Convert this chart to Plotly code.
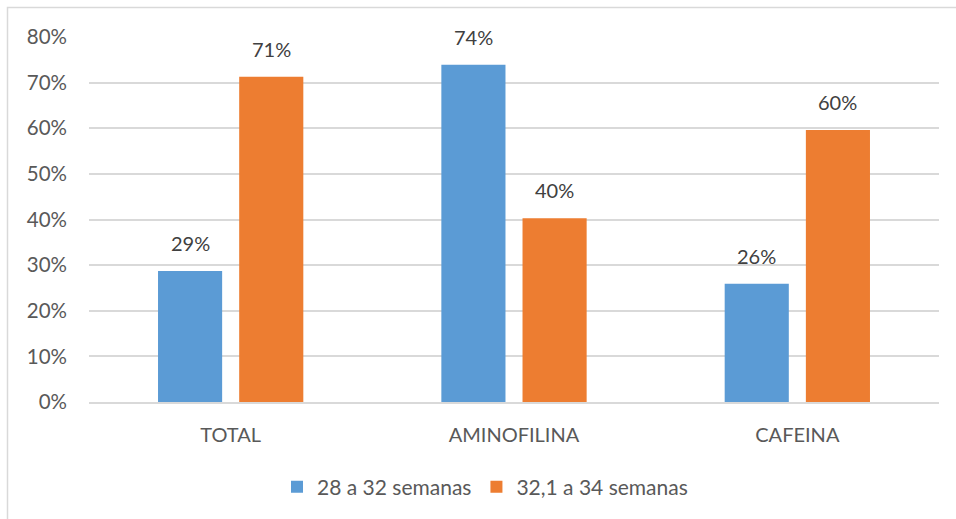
import plotly.graph_objects as go

categories = ["TOTAL", "AMINOFILINA", "CAFEINA"]
series_names = ["28 a 32 semanas", "32,1 a 34 semanas"]
vals_28_32 = [0.287, 0.739, 0.259]
vals_32_34 = [0.713, 0.403, 0.596]
y_ticks = [0, 0.1, 0.2, 0.3, 0.4, 0.5, 0.6, 0.7, 0.8]

colors = ["#5B9BD5", "#ED7D31"]
text_color = "#595959"
grid_color = "#D9D9D9"
font_family = "Lato, 'Open Sans', sans-serif"

W, H = 956, 519
ml, mr, mt, mb = 89, 17, 37, 117
pw, ph = W - ml - mr, H - mt - mb

fig = go.Figure()
for name, vals, col in zip(series_names, [vals_28_32, vals_32_34], colors):
    fig.add_trace(go.Bar(
        x=categories, y=vals, name=name,
        marker=dict(color=col, line=dict(width=0)),
        hoverinfo="skip",
    ))

# value labels above each bar
slot = pw / 3 * (1 - 0.427) / 2
for i, vals in enumerate([vals_28_32, vals_32_34]):
    shift = (i - 0.5) * slot
    for c, v in zip(categories, vals):
        fig.add_annotation(
            x=c, y=v, text=f"{v:.0%}", showarrow=False,
            xshift=shift, yshift=14, yanchor="bottom",
            font=dict(family=font_family, size=20, color="#404040"),
        )

# outer chart frame
fig.add_shape(
    type="rect", xref="paper", yref="paper",
    x0=(7.5 - ml) / pw, x1=(962 - ml) / pw,
    y0=(402 - 525) / ph, y1=1 + (mt - 7.5) / ph,
    line=dict(color=grid_color, width=1.5), fillcolor="rgba(0,0,0,0)",
    layer="below",
)

fig.update_layout(
    width=W, height=H,
    margin=dict(l=ml, r=mr, t=mt, b=mb),
    paper_bgcolor="white", plot_bgcolor="white",
    barmode="group", bargap=0.427, bargroupgap=0.21,
    font=dict(family=font_family, size=20, color=text_color),
    showlegend=True,
    legend=dict(
        orientation="h", x=(485 - ml) / pw, xanchor="center",
        y=(402 - 487) / ph, yanchor="middle",
        font=dict(size=21, color=text_color),
        itemwidth=30, traceorder="normal",
    ),
    xaxis=dict(
        showgrid=False, showline=True, linecolor=grid_color, linewidth=1.5,
        ticks="", ticklabelstandoff=14,
        tickfont=dict(size=20, color=text_color),
    ),
    yaxis=dict(
        range=[0, 0.8], tickvals=y_ticks, tickformat=".0%",
        showgrid=True, gridcolor=grid_color, gridwidth=1.5,
        zeroline=False, showline=False, ticks="",
        ticklabelstandoff=21,
        tickfont=dict(size=20.5, color=text_color),
    ),
)

fig.write_html("out.html")
